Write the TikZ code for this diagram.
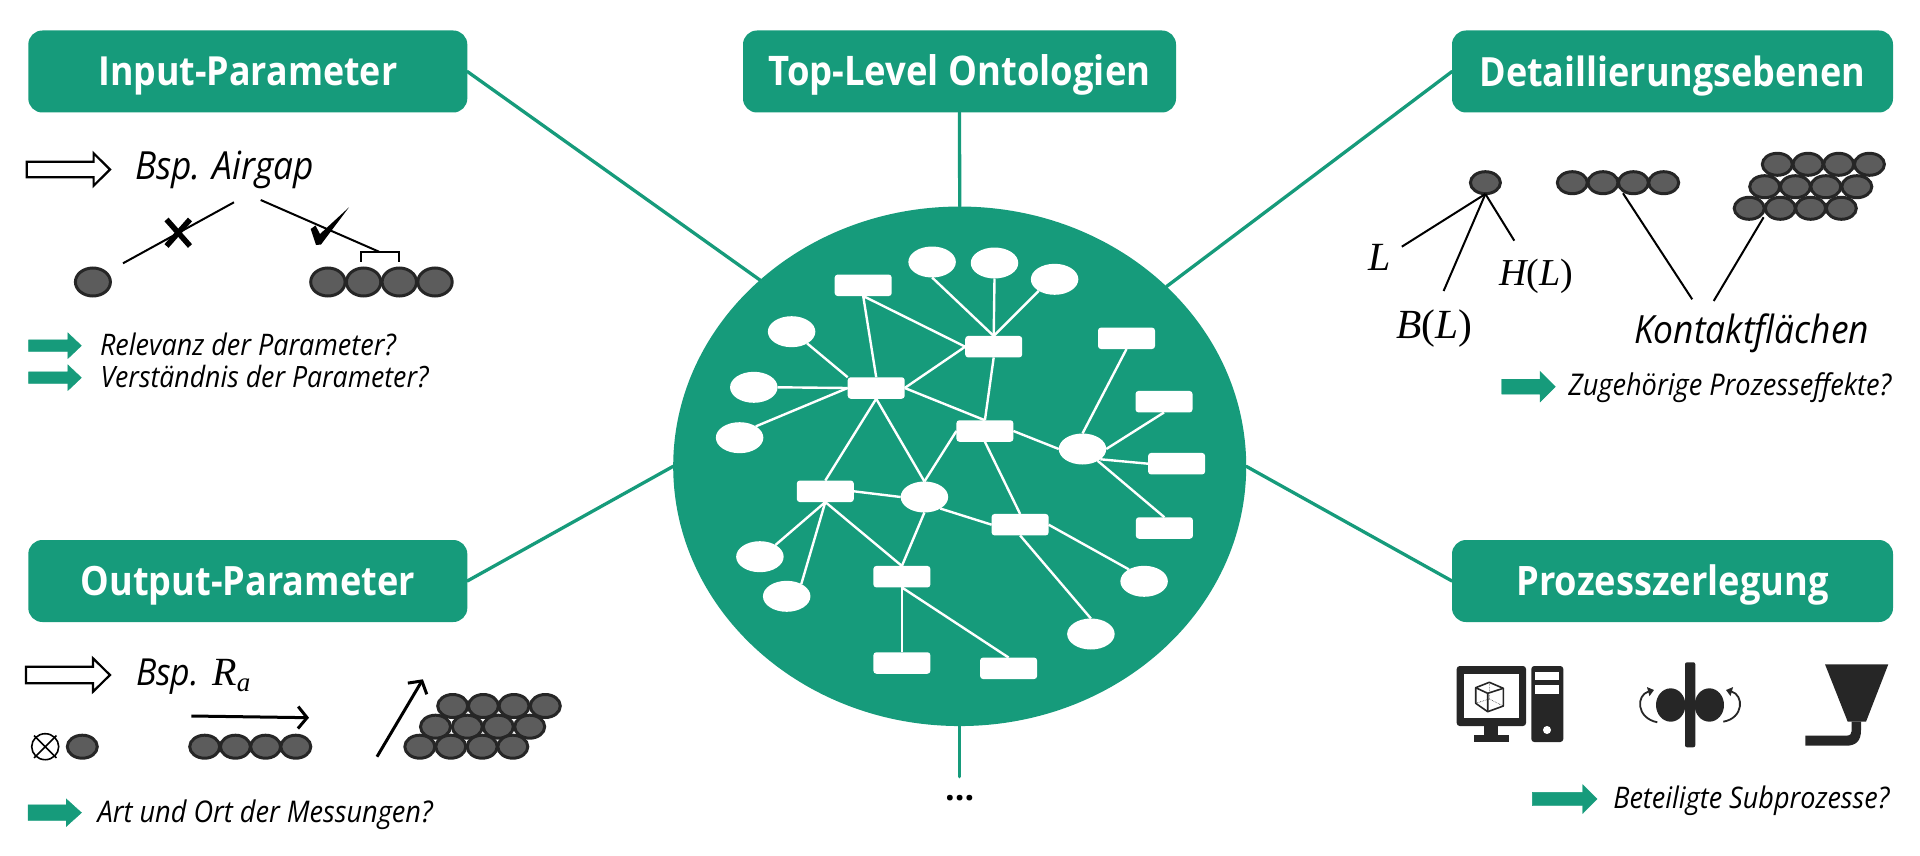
\documentclass[tikz,border=0pt]{standalone}
\usepackage{fontspec}
\usepackage{graphicx}
\setmainfont{Open Sans}
\newfontfamily\mathish{Liberation Serif}
\usetikzlibrary{shapes.geometric,arrows.meta}
\definecolor{grn}{HTML}{169B7B}
\definecolor{blobfill}{HTML}{5C5C5C}
\definecolor{blobline}{HTML}{262626}
\definecolor{icon}{HTML}{262626}
\newcommand{\fitm}[2]{\resizebox{#1pt}{!}{#2}}
\newcommand{\fitw}[2]{\scalebox{1}[1.1]{\resizebox{#1pt}{!}{#2}}}
\newcommand{\hdrtext}[2]{\raisebox{-14.5pt}[0pt][0pt]{\scalebox{1}[1.12]{\resizebox{#1pt}{!}{#2}}}}
\newcommand{\blob}[4]{\draw[blobline,fill=blobfill,line width=3pt] (#1,#2) ellipse [x radius=#3pt,y radius=#4pt];}
% x0, base of head, tip, centre y, half shaft, half head
\newcommand{\harrow}[7][]{\draw[#1] (#2,#5-#6) -- (#3,#5-#6) -- (#3,#5-#7) -- (#4,#5) -- (#3,#5+#7) -- (#3,#5+#6) -- (#2,#5+#6) -- cycle;}
\tikzset{
  hdr/.style={draw=none,fill=grn,rounded corners=14pt,minimum width=439pt,minimum height=82pt,inner sep=0pt,outer sep=0pt,text=white,font=\bfseries\fontsize{33}{38}\selectfont},
  conn/.style={draw=grn,line width=3.3pt,line cap=round},
  onto/.style={ellipse,fill=grn,inner sep=0pt,outer sep=0pt,minimum width=573pt,minimum height=519.5pt},
  rb/.style={rectangle,fill=white,rounded corners=3pt,minimum width=57pt,minimum height=21.5pt,inner sep=0pt,outer sep=0pt},
  eb/.style={ellipse,fill=white,minimum width=47.5pt,minimum height=31pt,inner sep=0pt,outer sep=0pt},
  edge/.style={draw=white,line width=2.4pt},
  thin/.style={draw=black,line width=2pt},
  qtext/.style={anchor=base west,inner sep=0pt,outer sep=0pt,font=\itshape\fontsize{22}{26}\selectfont},
  btext/.style={anchor=base west,inner sep=0pt,outer sep=0pt,font=\itshape\fontsize{32}{38}\selectfont},
  mtext/.style={anchor=base west,inner sep=0pt,outer sep=0pt,font=\mathish\fontsize{40}{46}\selectfont},
}
\begin{document}
\begin{tikzpicture}[x=1pt,y=-1pt]
\useasboundingbox (0,0) rectangle (1920,856);
% central ellipse and connectors
\node[onto] (core) at (959.7,466.3) {};
\node[hdr] (hInput) at (247.8,71.5) {\hdrtext{299}{Input-Parameter}};
\node[hdr,minimum width=433pt] (hTop) at (959.5,71.5) {\hdrtext{382}{Top-Level Ontologien}};
\node[hdr,minimum width=441pt] (hDet) at (1672.5,71.5) {\hdrtext{386}{Detaillierungsebenen}};
\node[hdr] (hOut) at (247.8,581) {\hdrtext{334}{Output-Parameter}};
\node[hdr,minimum width=441pt] (hProz) at (1672.5,581) {\hdrtext{312}{Prozesszerlegung}};
\coordinate (bottomEnd) at (959.7,776.7);
\draw[conn] (hInput.east) -- (core.137.4);
\draw[conn] (hTop.south) -- (core.north);
\draw[conn] (hDet.west) -- (core.41.9);
\draw[conn] (hOut.east) -- (core.west);
\draw[conn] (hProz.west) -- (core.east);
\draw[conn] (core.south) -- (bottomEnd);
\node[anchor=base,inner sep=0pt,font=\bfseries\fontsize{34}{40}\selectfont] (dots) at (959.7,800.8) {...};
% network nodes
\node[rb] (r1) at (863.2,285.3) {};
\node[eb] (e1) at (932.1,262) {};
\node[eb] (e2) at (994.5,263) {};
\node[eb] (e3) at (1054.6,279.3) {};
\node[rb] (r2) at (993.7,346.7) {};
\node[eb] (e4) at (791.6,331.7) {};
\node[eb] (e5) at (753.8,387.3) {};
\node[eb] (e6) at (739.6,437.7) {};
\node[rb] (r3) at (876.2,388) {};
\node[rb] (r4) at (984.9,431) {};
\node[rb] (r5) at (1126.5,338.3) {};
\node[rb] (r6) at (1164,401.7) {};
\node[eb] (e7) at (1082.5,449) {};
\node[rb] (r7) at (1176.6,463.7) {};
\node[rb] (r8) at (825.3,491.3) {};
\node[eb] (e8) at (924.4,497) {};
\node[rb] (r9) at (1020.1,524.7) {};
\node[rb] (r10) at (1164.4,528) {};
\node[eb] (e9) at (759.9,556.7) {};
\node[eb] (e10) at (786.7,596.3) {};
\node[rb] (r11) at (901.9,576.7) {};
\node[eb] (e11) at (1144.1,581.3) {};
\node[eb] (e12) at (1090.9,634) {};
\node[rb] (r12) at (901.9,663) {};
\node[rb] (r13) at (1008.6,668.3) {};
% network edges
\draw[edge] (r1.south) -- (r3.north);
\draw[edge] (r1.south) -- (r2.west);
\draw[edge] (e1.south) -- (r2.north);
\draw[edge] (e2.south) -- (r2.north);
\draw[edge] (e3.216) -- (r2.north);
\draw[edge] (r3.east) -- (r2.west);
\draw[edge] (r2.south) -- (r4.north);
\draw[edge] (e4.-37) -- (r3.north west);
\draw[edge] (e5.east) -- (r3.west);
\draw[edge] (e6.35) -- (r3.west);
\draw[edge] (r3.east) -- (r4.north);
\draw[edge] (r3.south) -- (r8.north);
\draw[edge] (r3.south) -- (e8.north);
\draw[edge] (r4.west) -- (e8.north);
\draw[edge] (r4.south) -- (r9.north);
\draw[edge] (r4.east) -- (e7.west);
\draw[edge] (r5.south) -- (e7.north);
\draw[edge] (r6.south) -- (e7.east);
\draw[edge] (r7.west) -- (e7.-30);
\draw[edge] (r10.north) -- (e7.-38);
\draw[edge] (r8.east) -- (e8.west);
\draw[edge] (r8.south) -- (e9.37);
\draw[edge] (r8.south) -- (e10.40);
\draw[edge] (r8.south) -- (r11.north);
\draw[edge] (e8.south) -- (r11.north);
\draw[edge] (e8.-36) -- (r9.west);
\draw[edge] (r9.east) -- (e11.142);
\draw[edge] (r9.south) -- (e12.north);
\draw[edge] (r11.south) -- (r12.north);
\draw[edge] (r11.south) -- (r13.north);
% --- Input panel
\harrow[draw=black,fill=white,line width=2.2pt]{26.8}{93.6}{110}{169.5}{7.8}{16.3}
\node[btext] (t1) at (135,179.3) {\fitw{179}{Bsp. Airgap}};
\coordinate (a1) at (234,202.3); \coordinate (a2) at (123,263.3);
\coordinate (a3) at (260.7,200); \coordinate (a4) at (379,251.7);
\draw[thin] (a1) -- (a2);
\draw[thin] (a3) -- (a4);
\draw[black,line width=5.5pt] (166.5,219.5) -- (190,246) (190,219.5) -- (166.5,246);
\fill[black] (310.7,229) -- (315.5,225.5) -- (320,234) -- (349,207.3) -- (321,244.5) -- (316,245) -- cycle;
\draw[black,line width=1.8pt] (361,261.7) -- (361,251.7) -- (398.6,251.7) -- (398.6,261.7);
\blob{92.9}{282}{17.5}{14}
\foreach \x in {327.9,363.6,399.3,435}{\blob{\x}{282}{17.2}{14}}
\harrow[fill=grn,draw=grn]{28.6}{67.9}{81.4}{345.7}{5.8}{12.8}
\harrow[fill=grn,draw=grn]{28.6}{67.9}{81.4}{377.7}{5.8}{12.8}
\node[qtext] (t2) at (100,355.7) {\fitw{296}{Relevanz der Parameter?}};
\node[qtext] (t3) at (100.5,387.3) {\fitw{328}{Verständnis der Parameter?}};
% --- Output panel
\harrow[draw=black,fill=white,line width=2.2pt]{26}{93}{110}{675}{8.3}{16.7}
\node[btext] (t4) at (136,685) {\fitw{63}{Bsp.}};
\node[mtext] (t5) at (212.4,685) {{\itshape R}\raisebox{-6pt}{\fontsize{27}{30}\selectfont\itshape a}};
\coordinate (b1) at (191.4,716); \coordinate (b2) at (309,717.7);
\draw[black,line width=3pt,-{Straight Barb[length=9pt,width=22pt]}] (b1) -- (b2);
\coordinate (b3) at (377,756.7); \coordinate (b4) at (422.9,679.3);
\draw[black,line width=3pt,-{Straight Barb[length=9pt,width=22pt]}] (b3) -- (b4);
\draw[black,line width=1.6pt] (45.2,746.7) ellipse [x radius=13.5pt,y radius=13pt];
\draw[black,line width=1.6pt] (34,735.5) -- (56.4,757.9) (56.4,735.5) -- (34,757.9);
\blob{82.3}{746.7}{15}{11.5}
\foreach \x in {204.7,235.4,265.6,295.8}{\blob{\x}{746.7}{15}{11.5}}
\foreach \x in {452.7,483.4,514,545.3}{\blob{\x}{706}{15}{11.5}}
\foreach \x in {435.5,467.3,498.3,529.7}{\blob{\x}{726.7}{15}{11.5}}
\foreach \x in {419.8,450.8,482.2,512.8}{\blob{\x}{746.7}{15}{11.5}}
\harrow[fill=grn,draw=grn]{28}{66.2}{81.5}{812.7}{7.8}{13.8}
\node[qtext] (t6) at (97.6,822.7) {\fitw{335}{Art und Ort der Messungen?}};
% --- Detail panel
\blob{1485.4}{182.7}{15}{11}
\coordinate (c0) at (1485.4,194);
\coordinate (c1) at (1401.8,246.7); \coordinate (c2) at (1443.6,291); \coordinate (c3) at (1514.3,240.7);
\draw[thin] (c0) -- (c1); \draw[thin] (c0) -- (c2); \draw[thin] (c0) -- (c3);
\foreach \x in {1572.3,1603,1633.4,1663.7}{\blob{\x}{182.7}{15}{11}}
\foreach \x in {1777.3,1808,1838.7,1869.4}{\blob{\x}{164.3}{15}{11}}
\foreach \x in {1764.7,1795.4,1825.8,1856.8}{\blob{\x}{186.7}{15}{11}}
\foreach \x in {1749.2,1780.3,1810.6,1841.3}{\blob{\x}{208.3}{15}{11}}
\coordinate (d1) at (1623,193.3); \coordinate (d2) at (1692.2,299.3);
\coordinate (d3) at (1763.6,217.3); \coordinate (d4) at (1713.7,301);
\draw[thin] (d1) -- (d2); \draw[thin] (d3) -- (d4);
\node[mtext] (t7) at (1368,270) {\itshape L};
\node[mtext] (t8) at (1396,338.3) {\fitm{76}{{\itshape B}({\itshape L})}};
\node[mtext] (t9) at (1499,285) {\fitm{74}{{\itshape H}({\itshape L})}};
\node[btext] (t10) at (1634,343.3) {\fitw{235}{Kontaktflächen}};
\harrow[fill=grn,draw=grn]{1501.7}{1540}{1555.3}{386.7}{7.5}{15.3}
\node[qtext] (t11) at (1568.3,395.7) {\fitw{323}{Zugehörige Prozesseffekte?}};
% --- Process panel: computer
\fill[icon,rounded corners=3pt] (1456.7,666) rectangle (1526,726);
\fill[white] (1464,674) rectangle (1519.3,718.3);
\fill[icon] (1484,726) rectangle (1498.3,735);
\fill[icon] (1474.3,735) rectangle (1508.7,742);
\fill[icon,rounded corners=3pt] (1531.3,666) rectangle (1563.3,742);
\fill[white] (1535.3,671.7) rectangle (1559.3,680);
\fill[white] (1535.3,685) rectangle (1559.3,693.7);
\fill[white] (1547,730) circle (4pt);
\draw[icon,line width=1.6pt,line join=round] (1489.3,682.3) -- (1503.3,688.3) -- (1503.3,706) -- (1487.7,711.7) -- (1475.7,703.3) -- (1475.7,687.7) -- cycle;
\draw[icon,line width=1.6pt] (1475.7,687.7) -- (1487.7,693.3) -- (1503.3,688.3) (1487.7,693.3) -- (1487.7,711.7);
\draw[icon,line width=.6pt,densely dotted] (1489.3,682.3) -- (1489.3,699) -- (1475.7,703.3) (1489.3,699) -- (1503.3,706);
% rollers
\fill[icon] (1670.7,705) ellipse [x radius=14.7pt,y radius=16.7pt];
\fill[icon] (1709.3,705) ellipse [x radius=14.7pt,y radius=16.7pt];
\fill[icon,rounded corners=2pt] (1685,662.3) rectangle (1695.3,747.3);
\draw[icon,line width=1.8pt,-{Triangle[length=6pt,width=9pt]}] (1657.3,722.3) .. controls (1636,718) and (1636,695) .. (1654,690);
\draw[icon,line width=1.8pt,-{Triangle[length=6pt,width=9pt]}] (1723.3,721.7) .. controls (1744,718) and (1744,695) .. (1726,690);
% funnel
\fill[icon] (1825,664.3) -- (1888.3,664.3) -- (1866,721.7) -- (1847.7,721.7) -- cycle;
\fill[icon] (1851.7,721.7) -- (1861,721.7) -- (1861,730) .. controls (1861,741) and (1856,745.7) .. (1846,745.7) -- (1805.3,745.7) -- (1805.3,735.7) -- (1846,735.7) .. controls (1850,735.7) and (1851.7,734) .. (1851.7,731) -- cycle;
\harrow[fill=grn,draw=grn]{1532.3}{1582.7}{1597}{799}{6.7}{14.5}
\node[qtext] (t12) at (1613.3,808.3) {\fitw{276}{Beteiligte Subprozesse?}};
\end{tikzpicture}
\end{document}
